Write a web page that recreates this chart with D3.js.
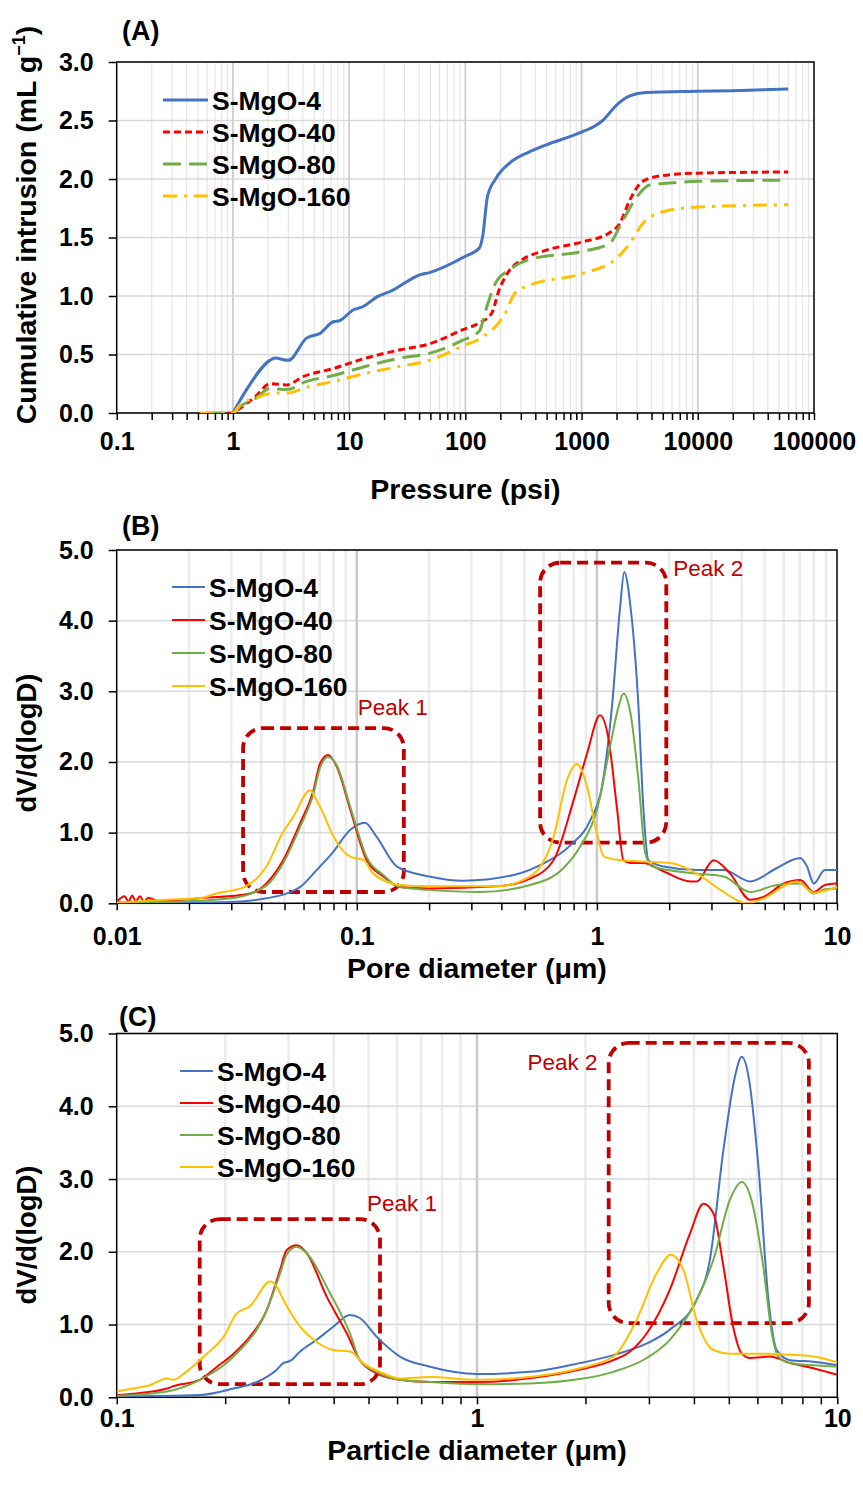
<!DOCTYPE html>
<html><head><meta charset="utf-8">
<script src="https://cdn.jsdelivr.net/npm/d3@7"></script>
<style>body{margin:0;background:#fff}svg{display:block;font-family:Arial,"Liberation Sans",sans-serif}</style>
</head><body><div id="c"></div>
<script>
// ---------- DATA ----------
const seriesNames = ["S-MgO-4","S-MgO-40","S-MgO-80","S-MgO-160"];
// Panel A: cumulative intrusion vs pressure (psi)
const pressA4 = [1.0,1.31,2.08,2.3,3.0,4.3,5.6,7.3,8.3,10.8,13.2,17.2,23.8,31,40.4,49,100,132,141,155,182,236,352,490,1000,1335,1520,1990,2600,3600,10000,20000,60000];
const intrA4  = [0,0.2,0.45,0.47,0.45,0.64,0.68,0.78,0.79,0.88,0.91,0.99,1.05,1.12,1.18,1.2,1.34,1.41,1.51,1.85,2.0,2.13,2.23,2.29,2.40,2.46,2.50,2.63,2.71,2.74,2.75,2.755,2.77];
const pressA40 = [0.9,1.0,1.15,1.6,2.08,2.9,4.0,7.3,14,27.5,49,94,132,168,195,236,308,490,1000,1740,2130,2600,3360,5000,10000,60000];
const intrA40  = [0,0.0,0.04,0.15,0.25,0.24,0.31,0.38,0.47,0.54,0.59,0.71,0.77,0.85,1.05,1.21,1.31,1.39,1.46,1.54,1.62,1.82,1.98,2.03,2.05,2.06];
const pressA80 = [0.6,1.0,1.15,1.6,2.08,2.9,4.3,7.3,14,27.5,49,94,132,150,182,236,352,1000,1740,2280,3000,3900,6500,10000,60000];
const intrA80  = [0,0,0.055,0.13,0.21,0.2,0.27,0.32,0.4,0.47,0.51,0.62,0.7,0.88,1.11,1.22,1.31,1.38,1.45,1.65,1.85,1.95,1.97,1.98,1.99];
const pressA160 = [0.52,1.0,1.15,1.6,2.2,2.9,4.3,7.3,14,27.5,49,94,141,182,220,265,352,1000,1990,2600,3360,5000,10000,60000];
const intrA160  = [0,0,0.07,0.13,0.17,0.17,0.22,0.27,0.34,0.40,0.45,0.57,0.65,0.74,0.85,1.02,1.09,1.19,1.32,1.45,1.62,1.72,1.76,1.78];

// Panel B: dV/d(logD) vs pore diameter (um)
const poreB4 = [0.01,0.02,0.03,0.042,0.058,0.068,0.079,0.094,0.108,0.121,0.147,0.2,0.278,0.45,0.58,0.775,0.94,1.05,1.155,1.25,1.30,1.38,1.49,1.56,1.64,1.9,2.61,3.37,4.35,5.62,7.03,7.5,8.0,8.9,10];
const dvB4   = [0.01,0.01,0.02,0.07,0.23,0.47,0.71,1.04,1.14,0.94,0.52,0.38,0.32,0.40,0.54,0.82,1.18,1.65,2.78,4.2,4.69,4.2,2.78,1.37,0.61,0.52,0.47,0.47,0.31,0.50,0.64,0.52,0.28,0.47,0.47];
const poreB40 = [0.01,0.0108,0.0112,0.0116,0.012,0.0125,0.013,0.0135,0.015,0.022,0.036,0.042,0.049,0.058,0.066,0.0703,0.076,0.0826,0.094,0.11,0.129,0.151,0.2,0.383,0.527,0.66,0.8,0.91,1.03,1.12,1.21,1.29,1.38,1.56,1.9,2.45,2.61,3.06,3.59,4.35,4.94,6.0,7.03,8.0,8.9,10];
const dvB40   = [0.02,0.1,0.02,0.11,0.03,0.1,0.02,0.08,0.03,0.07,0.14,0.28,0.59,1.13,1.6,1.98,2.10,1.93,1.32,0.61,0.38,0.23,0.21,0.24,0.35,0.61,1.46,2.12,2.66,2.31,1.37,0.61,0.57,0.57,0.45,0.31,0.31,0.61,0.42,0.05,0.09,0.28,0.33,0.16,0.26,0.28];
const poreB80 = [0.01,0.02,0.03,0.042,0.049,0.058,0.066,0.0703,0.076,0.0826,0.094,0.11,0.129,0.151,0.2,0.327,0.527,0.726,0.851,1.0,1.135,1.23,1.29,1.38,1.49,1.59,1.7,2.61,3.37,4.35,5.62,7.03,8.0,8.9,10];
const dvB80   = [0.01,0.03,0.07,0.25,0.55,1.08,1.55,1.92,2.07,1.95,1.36,0.65,0.40,0.23,0.19,0.16,0.26,0.5,0.80,1.32,2.22,2.78,2.97,2.69,1.74,0.71,0.52,0.42,0.38,0.16,0.26,0.28,0.14,0.2,0.21];
const poreB160 = [0.01,0.016,0.022,0.026,0.034,0.042,0.049,0.0545,0.064,0.068,0.0726,0.0775,0.094,0.107,0.117,0.151,0.2,0.383,0.527,0.66,0.75,0.826,0.91,1.0,1.07,1.25,1.56,2.02,2.61,3.27,4.22,4.94,6.8,8.0,10];
const dvB160   = [0.01,0.05,0.07,0.14,0.23,0.52,0.99,1.23,1.60,1.46,1.27,1.04,0.66,0.61,0.42,0.26,0.24,0.24,0.38,0.94,1.74,1.97,1.65,0.99,0.66,0.61,0.59,0.57,0.42,0.19,0.0,0.07,0.31,0.15,0.23];

// Panel C: dV/d(logD) vs particle diameter (um)
const partC4 = [0.1,0.17,0.211,0.245,0.278,0.29,0.303,0.323,0.359,0.399,0.444,0.473,0.527,0.611,0.741,1.0,1.40,1.93,2.39,2.96,3.43,4.07,4.43,4.83,5.20,5.43,5.67,6.04,6.44,6.79,7.4,8.58,10];
const dvC4   = [0.01,0.03,0.12,0.21,0.38,0.47,0.50,0.63,0.79,0.97,1.13,1.09,0.83,0.56,0.42,0.32,0.35,0.47,0.58,0.74,0.93,1.34,1.89,3.40,4.41,4.68,4.41,3.17,1.34,0.65,0.51,0.49,0.44];
const partC40 = [0.1,0.111,0.138,0.143,0.17,0.19,0.211,0.234,0.261,0.284,0.296,0.316,0.337,0.383,0.435,0.473,0.527,0.611,0.741,1.0,1.40,1.93,2.39,2.66,2.96,3.43,3.90,4.25,4.53,4.83,5.14,5.43,5.73,6.5,7.4,8.58,10];
const dvC40   = [0.03,0.05,0.12,0.15,0.24,0.42,0.60,0.83,1.20,1.75,2.02,2.09,1.98,1.38,0.88,0.51,0.33,0.24,0.21,0.21,0.26,0.38,0.51,0.63,0.88,1.48,2.25,2.66,2.53,1.80,0.97,0.60,0.54,0.56,0.47,0.40,0.31];
const partC80 = [0.1,0.138,0.17,0.211,0.261,0.284,0.296,0.316,0.337,0.391,0.444,0.473,0.527,0.611,0.741,1.0,1.40,1.93,2.39,2.96,3.43,4.07,4.53,5.03,5.43,5.78,6.23,6.58,6.86,7.4,8.58,10];
const dvC80   = [0.02,0.08,0.24,0.56,1.20,1.70,1.96,2.07,1.98,1.43,0.88,0.51,0.35,0.24,0.21,0.18,0.19,0.25,0.35,0.54,0.79,1.34,1.89,2.71,2.96,2.71,1.80,0.88,0.56,0.47,0.44,0.42];
const partC160 = [0.1,0.111,0.124,0.138,0.143,0.156,0.178,0.198,0.215,0.234,0.267,0.278,0.29,0.323,0.359,0.399,0.444,0.483,0.549,0.611,0.741,1.0,1.40,1.93,2.39,2.77,3.15,3.45,3.74,4.07,4.53,5.03,6.23,7.7,8.58,10];
const dvC160   = [0.08,0.12,0.17,0.26,0.24,0.35,0.60,0.83,1.15,1.25,1.59,1.52,1.34,0.97,0.76,0.65,0.63,0.47,0.33,0.26,0.28,0.24,0.28,0.40,0.56,1.06,1.70,1.96,1.75,1.06,0.65,0.60,0.60,0.58,0.56,0.48];

// Tick labels
const xTicksA = [0.1,1,10,100,1000,10000,100000];
const yTicksA = [0,0.5,1.0,1.5,2.0,2.5,3.0];
const xTicksB = [0.01,0.1,1,10];
const yTicksBC = [0,1,2,3,4,5];
const xTicksC = [0.1,1,10];

// Peak annotation boxes (data space: x0,x1,yBottom,yTop) and labels
const peaksB = [{name:"Peak 1",x0:0.0336,x1:0.157,y0:0.16,y1:2.48,lx:0.101,ly:2.77},
                {name:"Peak 2",x0:0.58,x1:1.945,y0:0.86,y1:4.82,lx:2.08,ly:4.74}];
const peaksC = [{name:"Peak 1",x0:0.170,x1:0.538,y0:0.18,y1:2.45,lx:0.495,ly:2.67},
                {name:"Peak 2",x0:2.32,x1:8.34,y0:1.02,y1:4.87,lx:1.38,ly:4.61}];

// ---------- DRAW ----------
const colors = ["#4472C4","#FF0000","#70AD47","#FFC000"];
const svg = d3.select("#c").append("svg").attr("width",863).attr("height",1493);
const defs = svg.append("defs");

function zip(xs, ys){ return xs.map((x,i)=>[x, ys[i]]); }

function panel(o){
  const g = svg.append("g");
  const x = d3.scaleLog().domain(o.xDomain).range([o.left,o.right]);
  const y = d3.scaleLinear().domain(o.yDomain).range([o.bottom,o.top]);
  const decades = [];
  for (let e=Math.round(Math.log10(o.xDomain[0])); e<Math.round(Math.log10(o.xDomain[1])); e++) decades.push(e);
  const minor=[], major=[];
  decades.forEach(e=>{ for(let m=1;m<10;m++){ const v=m*Math.pow(10,e); if(m===1) major.push(v); else minor.push(v);} });
  major.push(o.xDomain[1]);
  g.selectAll(".mg").data(minor).join("line")
    .attr("x1",d=>x(d)).attr("x2",d=>x(d)).attr("y1",o.top).attr("y2",o.bottom)
    .attr("stroke",o.minorColor).attr("stroke-width",o.minorWidth);
  g.selectAll(".hg").data(o.yTicks).join("line")
    .attr("x1",o.left).attr("x2",o.right).attr("y1",d=>y(d)).attr("y2",d=>y(d))
    .attr("stroke","#d9d9d9").attr("stroke-width",1.5);
  g.selectAll(".Mg").data(major.slice(1,-1)).join("line")
    .attr("x1",d=>x(d)).attr("x2",d=>x(d)).attr("y1",o.top).attr("y2",o.bottom)
    .attr("stroke",o.majorColor).attr("stroke-width",o.majorWidth);

  const allTicks = major.concat(minor).sort((a,b)=>a-b);
  const isLabel = d => { const v=+d.toPrecision(6); return o.xTicks.some(t=>Math.abs(t-v)/t<1e-6); };
  const xa = g.append("g").attr("transform",`translate(0,${o.bottom})`)
    .call(d3.axisBottom(x).tickValues(allTicks).tickSize(7).tickPadding(o.xPad)
      .tickFormat(d=> isLabel(d) ? String(+d.toPrecision(6)) : ""));
  const ya = g.append("g").attr("transform",`translate(${o.left},0)`)
    .call(d3.axisLeft(y).tickValues(o.yTicks).tickSize(8).tickPadding(15).tickFormat(d3.format(".1f")));
  [xa,ya].forEach(a=>{
    a.select(".domain").remove();
    a.selectAll("line").attr("stroke","#000").attr("stroke-width",1.5);
    a.selectAll("text").attr("font-size",25).attr("font-weight","bold").attr("fill","#000").attr("font-family","Arial, 'Liberation Sans', sans-serif");
  });
  g.append("rect").attr("x",o.left).attr("y",o.top).attr("width",o.right-o.left).attr("height",o.bottom-o.top)
    .attr("fill","none").attr("stroke","#000").attr("stroke-width",1.5);

  const cid = "clip"+o.id;
  defs.append("clipPath").attr("id",cid).append("rect")
    .attr("x",o.left).attr("y",o.top-2).attr("width",o.right-o.left).attr("height",o.bottom-o.top+2);

  if (o.peaks) {
    o.peaks.forEach(p=>{
      g.append("rect").attr("x",x(p.x0)).attr("y",y(p.y1)).attr("width",x(p.x1)-x(p.x0)).attr("height",y(p.y0)-y(p.y1))
        .attr("rx",20).attr("ry",20).attr("fill","none").attr("stroke","#C00000").attr("stroke-width",3.8)
        .attr("stroke-dasharray","11,6");
      g.append("text").attr("x",x(p.lx)).attr("y",y(p.ly)).attr("dy","0.35em").attr("font-size",22.5)
        .attr("fill","#C00000").text(p.name);
    });
  }

  const line = d3.line().x(d=>x(d[0])).y(d=>y(d[1])).curve(d3.curveMonotoneX);
  const lg = g.append("g").attr("clip-path",`url(#${cid})`);
  o.series.forEach((s,i)=>{
    lg.append("path").datum(s).attr("d",line).attr("fill","none").attr("stroke",colors[i])
      .attr("stroke-width",o.lw).attr("stroke-dasharray",o.dash ? o.dash[i] : null)
      .attr("stroke-linejoin","round");
  });

  seriesNames.forEach((n,i)=>{
    const ly = o.legY + i*o.legStep;
    g.append("line").attr("x1",o.legX).attr("x2",o.legX+o.legLen).attr("y1",ly).attr("y2",ly)
      .attr("stroke",colors[i]).attr("stroke-width",o.lw).attr("stroke-dasharray",o.dash ? o.dash[i] : null);
    g.append("text").attr("x",o.legX+o.legLen+4).attr("y",ly).attr("dy","0.36em")
      .attr("font-size",26.5).attr("font-weight","bold").text(n);
  });

  g.append("text").attr("x",o.tagX).attr("y",o.tagY).attr("font-size",27).attr("font-weight","bold").text(o.tag);
  g.append("text").attr("x",(o.left+o.right)/2).attr("y",o.xTitleY).attr("text-anchor","middle")
    .attr("font-size",28.5).attr("font-weight","bold").text(o.xTitle);
  const yt = g.append("text").attr("transform",`translate(${o.yTitleX},${o.yTitleC}) rotate(-90)`)
    .attr("text-anchor","middle").attr("font-size",o.yTitleSize).attr("font-weight","bold");
  if (o.id==="A") {
    yt.append("tspan").text("Cumulative intrusion (mL g");
    yt.append("tspan").attr("dy",-11).attr("font-size",18).text("−1");
    yt.append("tspan").attr("dy",11).text(")");
  } else yt.text(o.yTitle);
}

panel({id:"A", left:116.7, right:814, top:62, bottom:413, xDomain:[0.1,100000], yDomain:[0,3], yTicks:yTicksA, xTicks:xTicksA,
  minorColor:"#e6e6e6", minorWidth:1.2, majorColor:"#cfcfcf", majorWidth:1.8, xPad:12, lw:3,
  dash:[null,"7,4","18,8","14,7,3,7"],
  series:[zip(pressA4,intrA4),zip(pressA40,intrA40),zip(pressA80,intrA80),zip(pressA160,intrA160)],
  legX:163, legY:100, legStep:32, legLen:45, tag:"(A)", tagX:122, tagY:40,
  xTitle:"Pressure (psi)", xTitleY:499, yTitleX:36, yTitleC:225, yTitleSize:28.5});

panel({id:"B", left:116.7, right:837, top:550, bottom:903.3, xDomain:[0.01,10], yDomain:[0,5], yTicks:yTicksBC, xTicks:xTicksB,
  minorColor:"#ececec", minorWidth:2.5, majorColor:"#c8c8c8", majorWidth:2.5, xPad:17, lw:2,
  series:[zip(poreB4,dvB4),zip(poreB40,dvB40),zip(poreB80,dvB80),zip(poreB160,dvB160)],
  peaks:peaksB,
  legX:172, legY:587, legStep:33, legLen:33, tag:"(B)", tagX:122, tagY:535,
  xTitle:"Pore diameter (μm)", xTitleY:978, yTitleX:36, yTitleC:743, yTitleSize:27.5, yTitle:"dV/d(logD)"});

panel({id:"C", left:116.7, right:837.3, top:1033.5, bottom:1397.3, xDomain:[0.1,10], yDomain:[0,5], yTicks:yTicksBC, xTicks:xTicksC,
  minorColor:"#ececec", minorWidth:2.5, majorColor:"#c8c8c8", majorWidth:2.5, xPad:5, lw:2,
  series:[zip(partC4,dvC4),zip(partC40,dvC40),zip(partC80,dvC80),zip(partC160,dvC160)],
  peaks:peaksC,
  legX:180, legY:1071, legStep:32, legLen:33, tag:"(C)", tagX:119, tagY:1026,
  xTitle:"Particle diameter (μm)", xTitleY:1460, yTitleX:36, yTitleC:1235, yTitleSize:27.5, yTitle:"dV/d(logD)"});
</script></body></html>
